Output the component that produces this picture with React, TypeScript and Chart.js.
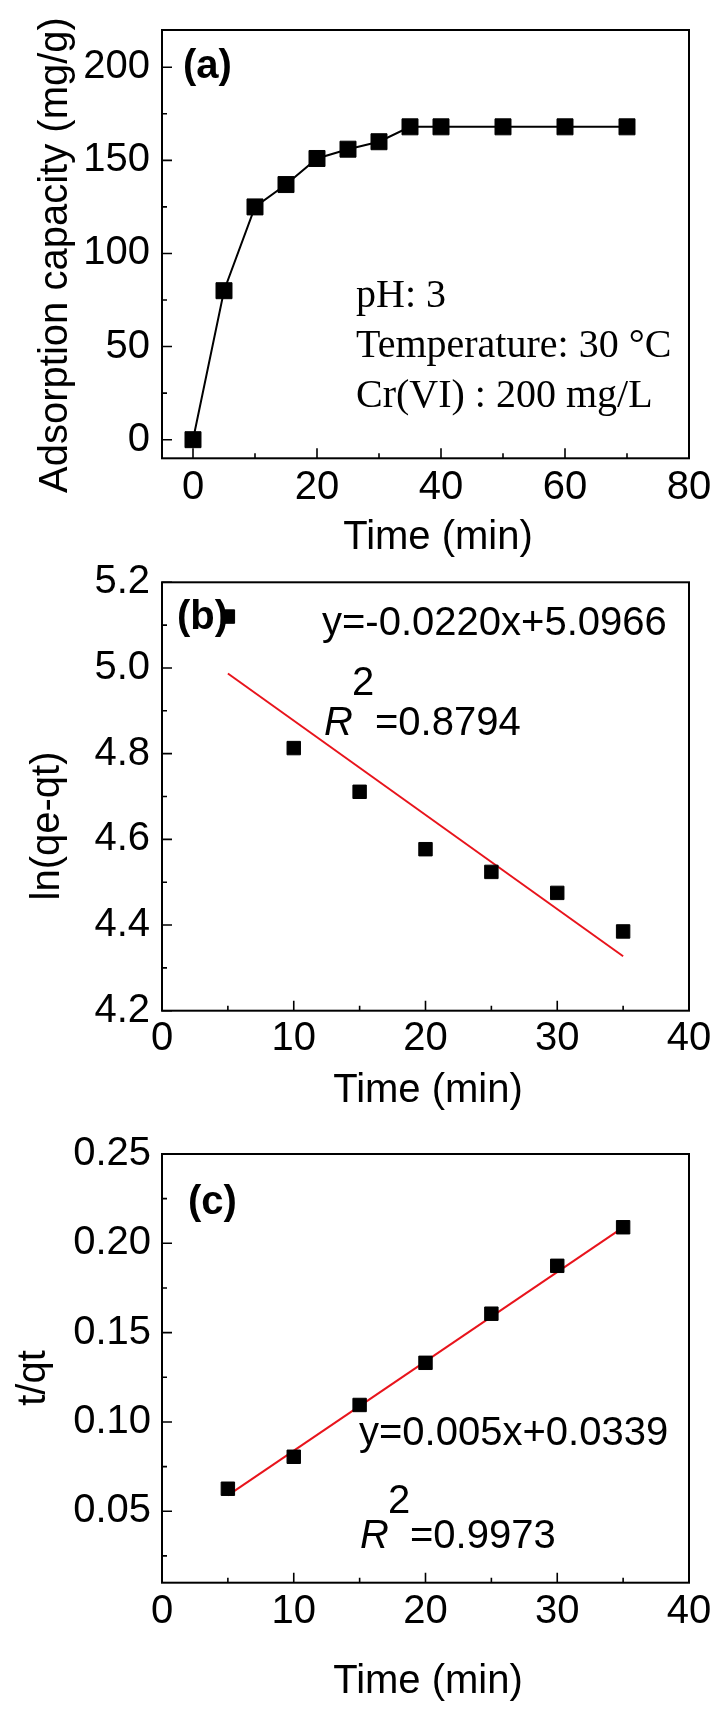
import React, { useEffect, useRef } from 'react';
import { Chart, registerables } from 'chart.js';

Chart.register(...registerables);

const SANS = '"Liberation Sans", Arial, sans-serif';
const SERIF = '"Liberation Serif", "Times New Roman", serif';

// ---------- Panel (a) data ----------
const timeA = [0, 5, 10, 15, 20, 25, 30, 35, 40, 50, 60, 70];
const capacityA = [0, 80, 125, 137, 151, 156, 160, 168, 168, 168, 168, 168];
const aXTicks = [0, 20, 40, 60, 80];
const aXLabels = ['0', '20', '40', '60', '80'];
const aXMinor = [10, 30, 50, 70];
const aYTicks = [0, 50, 100, 150, 200];
const aYLabels = ['0', '50', '100', '150', '200'];
const aYMinor = [25, 75, 125, 175];

// ---------- Panel (b) data ----------
const timeB = [5, 10, 15, 20, 25, 30, 35];
const lnB = [5.12, 4.813, 4.711, 4.577, 4.524, 4.475, 4.385];
const fitTimeB = [5, 35];
const fitLnB = [4.987, 4.327];
const bXTicks = [0, 10, 20, 30, 40];
const bXLabels = ['0', '10', '20', '30', '40'];
const bXMinor = [5, 15, 25, 35];
const bYTicks = [4.2, 4.4, 4.6, 4.8, 5.0, 5.2];
const bYLabels = ['4.2', '4.4', '4.6', '4.8', '5.0', '5.2'];
const bYMinor = [4.3, 4.5, 4.7, 4.9, 5.1];

// ---------- Panel (c) data ----------
const timeC = [5, 10, 15, 20, 25, 30, 35];
const tqC = [0.0626, 0.0805, 0.1095, 0.1331, 0.1606, 0.1874, 0.209];
const fitTimeC = [5, 35];
const fitTqC = [0.0589, 0.2089];
const cXTicks = [0, 10, 20, 30, 40];
const cXLabels = ['0', '10', '20', '30', '40'];
const cXMinor = [5, 15, 25, 35];
const cYTicks = [0.05, 0.1, 0.15, 0.2, 0.25];
const cYLabels = ['0.05', '0.10', '0.15', '0.20', '0.25'];
const cYMinor = [0.025, 0.075, 0.125, 0.175, 0.225];

// ---------- Text ----------
const xTitle = 'Time (min)';
const yTitleA = 'Adsorption capacity (mg/g)';
const yTitleB = 'ln(qe-qt)';
const yTitleC = 't/qt';
const conditionsA = ['pH: 3', 'Temperature: 30 °C', 'Cr(VI) : 200 mg/L'];
const eqB = 'y=-0.0220x+5.0966';
const r2B = '=0.8794';
const eqC = 'y=0.005x+0.0339';
const r2C = '=0.9973';

type TextItem = {
  text: string;
  x: number;
  y: number;
  font: string;
  align?: CanvasTextAlign;
  rotate?: boolean;
};

type PanelSpec = {
  top: number;
  height: number;
  chartTop: number;
  xAxisH: number;
  xMin: number;
  xMax: number;
  yMin: number;
  yMax: number;
  xTicks: number[];
  xLabels: string[];
  xMinor: number[];
  yTicks: number[];
  yLabels: string[];
  yMinor: number[];
  xPad: number;
  yPad: number;
  datasets: any[];
  texts: TextItem[];
};

const pts = (xs: number[], ys: number[]) => xs.map((x, i) => ({ x, y: ys[i] }));

const markerStyle = (r: number) => ({
  pointStyle: 'rect',
  pointRadius: r,
  pointHoverRadius: r,
  pointBackgroundColor: '#000',
  pointBorderColor: '#000',
  pointBorderWidth: 1,
  backgroundColor: '#000',
});

const fitStyle = {
  showLine: true,
  borderColor: '#e8141c',
  borderWidth: 2,
  pointRadius: 0,
  pointHoverRadius: 0,
};

const F40 = `40px ${SANS}`;
const B40 = `bold 40px ${SANS}`;
const I40 = `italic 40px ${SANS}`;
const S40 = `40px ${SERIF}`;

const panels: PanelSpec[] = [
  {
    top: 0,
    height: 565,
    chartTop: 30,
    xAxisH: 565 - 458.3,
    xMin: -5,
    xMax: 80,
    yMin: -10,
    yMax: 220,
    xTicks: aXTicks,
    xLabels: aXLabels,
    xMinor: aXMinor,
    yTicks: aYTicks,
    yLabels: aYLabels,
    yMinor: aYMinor,
    xPad: 6,
    yPad: 12,
    datasets: [
      {
        data: pts(timeA, capacityA),
        showLine: true,
        borderColor: '#000',
        borderWidth: 2,
        ...markerStyle(11.3),
      },
    ],
    texts: [
      { text: '(a)', x: 183, y: 78, font: B40 },
      { text: conditionsA[0], x: 356, y: 307, font: S40 },
      { text: conditionsA[1], x: 356, y: 357, font: S40 },
      { text: conditionsA[2], x: 356, y: 407, font: S40 },
      { text: xTitle, x: 438, y: 549, font: F40, align: 'center' },
      { text: yTitleA, x: 67, y: 255, font: F40, align: 'center', rotate: true },
    ],
  },
  {
    top: 545,
    height: 570,
    chartTop: 582.3 - 545,
    xAxisH: 570 - (1010.7 - 545),
    xMin: 0,
    xMax: 40,
    yMin: 4.2,
    yMax: 5.2,
    xTicks: bXTicks,
    xLabels: bXLabels,
    xMinor: bXMinor,
    yTicks: bYTicks,
    yLabels: bYLabels,
    yMinor: bYMinor,
    xPad: 4,
    yPad: 12,
    datasets: [
      { data: pts(timeB, lnB), showLine: false, ...markerStyle(9.5) },
      { data: pts(fitTimeB, fitLnB), ...fitStyle },
    ],
    texts: [
      { text: '(b)', x: 177, y: 84, font: B40 },
      { text: eqB, x: 322, y: 90, font: F40 },
      { text: 'R', x: 324, y: 190, font: I40 },
      { text: '2', x: 352, y: 150, font: F40 },
      { text: r2B, x: 375, y: 190, font: F40 },
      { text: xTitle, x: 428, y: 557, font: F40, align: 'center' },
      { text: yTitleB, x: 59, y: 281, font: F40, align: 'center', rotate: true },
    ],
  },
  {
    top: 1100,
    height: 620,
    chartTop: 1154 - 1100,
    xAxisH: 620 - (1582.7 - 1100),
    xMin: 0,
    xMax: 40,
    yMin: 0.01,
    yMax: 0.25,
    xTicks: cXTicks,
    xLabels: cXLabels,
    xMinor: cXMinor,
    yTicks: cYTicks,
    yLabels: cYLabels,
    yMinor: cYMinor,
    xPad: 5,
    yPad: 11,
    datasets: [
      { data: pts(timeC, tqC), showLine: false, ...markerStyle(9.5) },
      { data: pts(fitTimeC, fitTqC), ...fitStyle },
    ],
    texts: [
      { text: '(c)', x: 188, y: 114, font: B40 },
      { text: eqC, x: 359, y: 345, font: F40 },
      { text: 'R', x: 360, y: 448, font: I40 },
      { text: '2', x: 388, y: 413, font: F40 },
      { text: r2C, x: 410, y: 448, font: F40 },
      { text: xTitle, x: 428, y: 593, font: F40, align: 'center' },
      { text: yTitleC, x: 45, y: 278, font: F40, align: 'center', rotate: true },
    ],
  },
];

const CHART_LEFT = 162;
const CHART_RIGHT = 689;
const W = 723;

function Panel({ spec }: { spec: PanelSpec }) {
  const ref = useRef<HTMLCanvasElement>(null);

  useEffect(() => {
    const canvas = ref.current;
    if (!canvas) return;

    const framePlugin = {
      id: 'frame' + spec.top,
      beforeDatasetsDraw(chart: any) {
        const { ctx, chartArea } = chart;
        const { left, right, top, bottom } = chartArea;
        const xs = chart.scales.x;
        const ys = chart.scales.y;
        ctx.save();
        ctx.strokeStyle = '#000';
        ctx.lineWidth = 1.6;
        ctx.beginPath();
        spec.xTicks.forEach((v) => {
          const p = xs.getPixelForValue(v);
          ctx.moveTo(p, bottom);
          ctx.lineTo(p, bottom - 10);
        });
        spec.xMinor.forEach((v) => {
          const p = xs.getPixelForValue(v);
          ctx.moveTo(p, bottom);
          ctx.lineTo(p, bottom - 5);
        });
        spec.yTicks.forEach((v) => {
          const p = ys.getPixelForValue(v);
          ctx.moveTo(left, p);
          ctx.lineTo(left + 10, p);
        });
        spec.yMinor.forEach((v) => {
          const p = ys.getPixelForValue(v);
          ctx.moveTo(left, p);
          ctx.lineTo(left + 5, p);
        });
        ctx.stroke();
        ctx.lineWidth = 2;
        ctx.strokeRect(left, top, right - left, bottom - top);
        ctx.restore();
      },
    };

    const textPlugin = {
      id: 'texts' + spec.top,
      afterDraw(chart: any) {
        const ctx = chart.ctx;
        ctx.save();
        ctx.fillStyle = '#000';
        ctx.textBaseline = 'alphabetic';
        spec.texts.forEach((t) => {
          ctx.font = t.font;
          ctx.textAlign = t.align || 'left';
          if (t.rotate) {
            ctx.save();
            ctx.translate(t.x, t.y);
            ctx.rotate(-Math.PI / 2);
            ctx.fillText(t.text, 0, 0);
            ctx.restore();
          } else {
            ctx.fillText(t.text, t.x, t.y);
          }
        });
        ctx.restore();
      },
    };

    const tickFont = { family: SANS, size: 40 };

    const chart = new Chart(canvas, {
      type: 'scatter',
      data: { datasets: spec.datasets },
      options: {
        responsive: false,
        maintainAspectRatio: false,
        animation: false,
        devicePixelRatio: 1,
        events: [],
        layout: {
          padding: { left: 0, right: W - CHART_RIGHT, top: spec.chartTop, bottom: 0 },
        },
        plugins: {
          legend: { display: false },
          tooltip: { enabled: false },
        },
        scales: {
          x: {
            type: 'linear',
            min: spec.xMin,
            max: spec.xMax,
            afterBuildTicks: (s: any) => {
              s.ticks = spec.xTicks.map((v) => ({ value: v }));
            },
            afterFit: (s: any) => {
              s.height = spec.xAxisH;
              s.paddingLeft = 0;
              s.paddingRight = 0;
              s.paddingTop = 0;
              s.paddingBottom = 0;
            },
            grid: { display: false, drawTicks: false },
            border: { display: false },
            ticks: {
              autoSkip: false,
              maxRotation: 0,
              minRotation: 0,
              padding: spec.xPad,
              color: '#000',
              font: tickFont,
              callback: (v: any) => {
                const i = spec.xTicks.indexOf(Number(v));
                return i >= 0 ? spec.xLabels[i] : '';
              },
            },
          },
          y: {
            type: 'linear',
            min: spec.yMin,
            max: spec.yMax,
            afterBuildTicks: (s: any) => {
              s.ticks = spec.yTicks.map((v) => ({ value: v }));
            },
            afterFit: (s: any) => {
              s.width = CHART_LEFT;
              s.paddingLeft = 0;
              s.paddingRight = 0;
              s.paddingTop = 0;
              s.paddingBottom = 0;
            },
            grid: { display: false, drawTicks: false },
            border: { display: false },
            ticks: {
              autoSkip: false,
              padding: spec.yPad,
              color: '#000',
              font: tickFont,
              callback: (v: any) => {
                const i = spec.yTicks.indexOf(Number(v));
                return i >= 0 ? spec.yLabels[i] : '';
              },
            },
          },
        },
      } as any,
      plugins: [framePlugin, textPlugin],
    });

    return () => chart.destroy();
  }, [spec]);

  return (
    <canvas
      ref={ref}
      width={W}
      height={spec.height}
      style={{
        position: 'absolute',
        left: 0,
        top: spec.top,
        width: W,
        height: spec.height,
      }}
    />
  );
}

export default function App() {
  return (
    <div
      style={{
        position: 'absolute',
        left: 0,
        top: 0,
        width: W,
        height: 1720,
        background: '#fff',
        overflow: 'hidden',
      }}
    >
      {panels.map((p) => (
        <Panel key={p.top} spec={p} />
      ))}
    </div>
  );
}
